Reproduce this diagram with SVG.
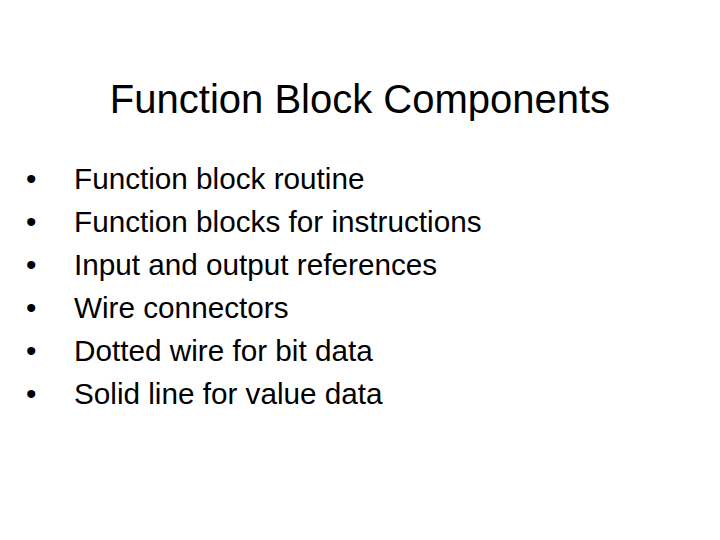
<svg xmlns="http://www.w3.org/2000/svg" width="720" height="540" viewBox="0 0 720 540">
<style>
text{font-family:"Liberation Sans",Arial,sans-serif;fill:#000}
.b{font-size:29.7px}
</style>
<rect width="720" height="540" fill="#fff"/>
<text x="360" y="113" font-size="40" text-anchor="middle">Function Block Components</text>
<g class="b">
<text x="26" y="189">•</text><text x="74" y="189">Function block routine</text>
<text x="26" y="232">•</text><text x="74" y="232">Function blocks for instructions</text>
<text x="26" y="275">•</text><text x="74" y="275">Input and output references</text>
<text x="26" y="318">•</text><text x="74" y="318">Wire connectors</text>
<text x="26" y="361">•</text><text x="74" y="361">Dotted wire for bit data</text>
<text x="26" y="404">•</text><text x="74" y="404">Solid line for value data</text>
</g>
</svg>
